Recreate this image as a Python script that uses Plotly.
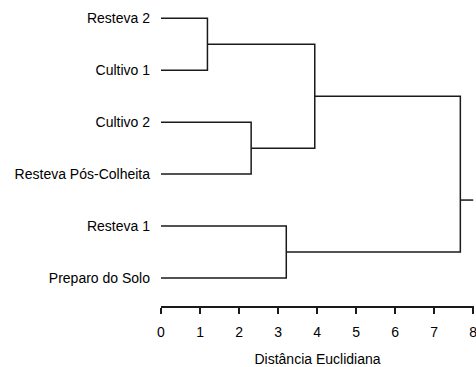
import plotly.graph_objects as go

# Leaves (top to bottom)
labels = ["Resteva 2", "Cultivo 1", "Cultivo 2", "Resteva Pós-Colheita",
          "Resteva 1", "Preparo do Solo"]
# Merges: (left node, right node, height); nodes 0-5 leaves, 6+ clusters
merge_left = [0, 2, 6, 4, 8]
merge_right = [1, 3, 7, 5, 9]
merge_height = [1.19, 2.31, 3.94, 3.21, 7.67]
root_stub_end = 8.0
root_stub_leafpos = 3.5
x_ticks = [0, 1, 2, 3, 4, 5, 6, 7, 8]
x_title = "Distância Euclidiana"

line_color = "#1a1a1a"
font_family = "Liberation Sans, Arial, sans-serif"

# node positions
node_y = {i: float(i) for i in range(len(labels))}
node_x = {i: 0.0 for i in range(len(labels))}

xs, ys = [], []
for k, (a, b, h) in enumerate(zip(merge_left, merge_right, merge_height)):
    nid = len(labels) + k
    xs += [node_x[a], h, h, node_x[b], None]
    ys += [node_y[a], node_y[a], node_y[b], node_y[b], None]
    node_x[nid] = h
    node_y[nid] = (node_y[a] + node_y[b]) / 2

root = len(labels) + len(merge_height) - 1
xs += [node_x[root], root_stub_end, None]
ys += [root_stub_leafpos, root_stub_leafpos, None]

fig = go.Figure()
fig.add_trace(go.Scatter(x=xs, y=ys, mode="lines",
                         line=dict(color=line_color, width=1.5),
                         hoverinfo="skip", showlegend=False, cliponaxis=False))

fig.update_layout(
    width=476, height=367,
    margin=dict(l=161, r=2, t=0, b=61),
    paper_bgcolor="white", plot_bgcolor="white",
    font=dict(family=font_family, size=14, color="black"),
    xaxis=dict(range=[0, 8.02], tickvals=x_ticks, ticktext=[str(t) for t in x_ticks],
               showgrid=False, zeroline=False, showline=True,
               linecolor=line_color, linewidth=1.5,
               ticks="outside", ticklen=6, tickwidth=1.5, tickcolor=line_color,
               ticklabelstandoff=7, automargin=False, ticklabeloverflow="allow",
               title=dict(text=x_title, standoff=21, font=dict(size=14)),
               fixedrange=True),
    yaxis=dict(range=[5.54, -0.353], tickvals=list(range(len(labels))),
               ticktext=labels, showgrid=False, zeroline=False, showline=False,
               ticks="", ticklabelstandoff=10, automargin=False, fixedrange=True),
)

fig.write_html("out.html", config={"displayModeBar": False, "staticPlot": True},
               post_script="document.body.style.margin='0';document.body.style.overflow='hidden';")
